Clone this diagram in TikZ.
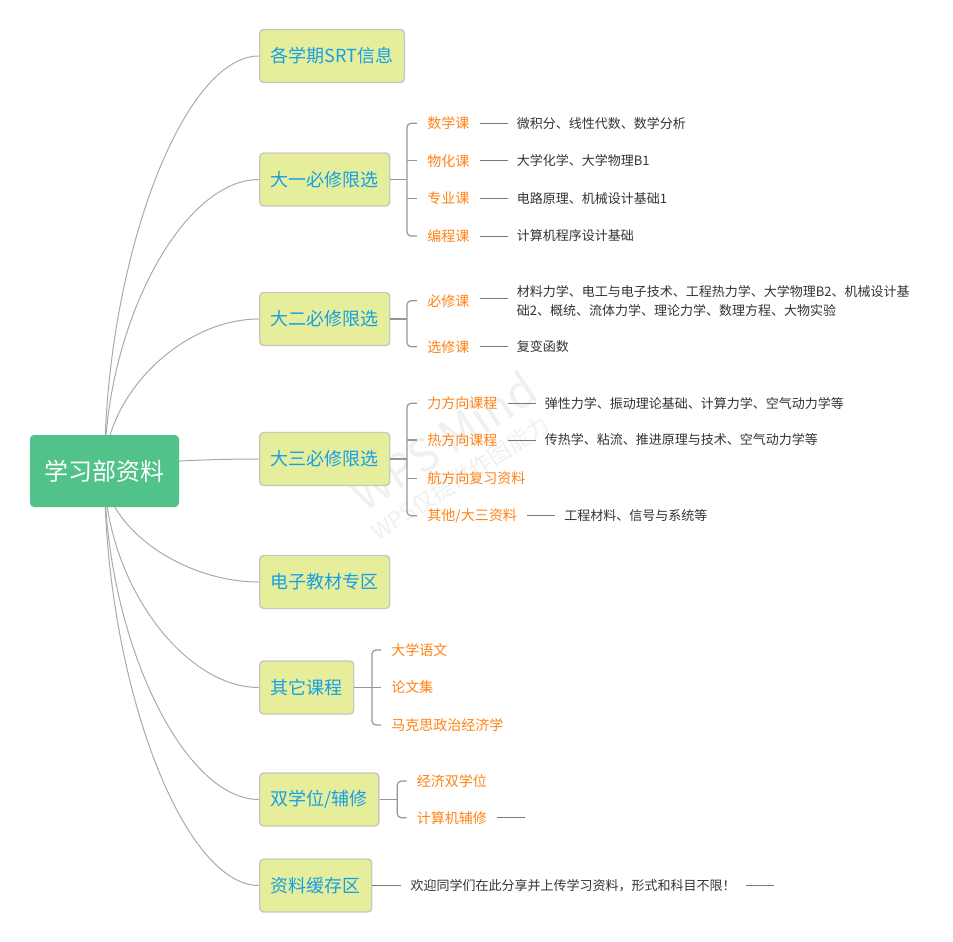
\documentclass[tikz,border=0pt]{standalone}
\usepackage{fontspec}
\setmainfont{Noto Sans CJK SC}
\usetikzlibrary{calc,backgrounds}
\definecolor{rootfill}{RGB}{80,194,138}
\definecolor{l1fill}{RGB}{230,238,156}
\definecolor{l1draw}{RGB}{200,200,190}
\definecolor{l1text}{RGB}{20,160,230}
\definecolor{l2text}{RGB}{255,130,20}
\definecolor{l3text}{RGB}{51,51,51}
\definecolor{curvecol}{RGB}{170,170,170}
\definecolor{brkcol}{RGB}{150,150,150}
\definecolor{leafcol}{RGB}{120,120,120}
\definecolor{wmcol}{RGB}{240,240,240}
\begin{document}
\begin{tikzpicture}[x=0.75pt,y=-0.75pt,
  root/.style={fill=rootfill, rounded corners=3pt, text=white, font=\fontsize{18pt}{22pt}\selectfont, minimum width=111.75pt, minimum height=54pt, inner sep=0pt},
  topic/.style={fill=l1fill, draw=l1draw, line width=1.1pt, rounded corners=3pt, text=l1text, font=\fontsize{13.5pt}{16pt}\selectfont, minimum height=39.75pt, inner xsep=8.25pt, inner ysep=0pt, anchor=west},
  sub/.style={text=l2text, font=\fontsize{10.5pt}{13pt}\selectfont, inner sep=0pt, anchor=west},
  leaf/.style={text=l3text, font=\fontsize{9.75pt}{14.25pt}\selectfont, inner sep=0pt, anchor=west, align=left},
  curve/.style={draw=curvecol, line width=0.75pt},
  brk/.style={draw=brkcol, line width=0.9pt, rounded corners=3pt},
  leafline/.style={draw=leafcol, line width=0.75pt},
  wm/.style={text=wmcol, rotate=33}]

\useasboundingbox (0,0) rectangle (953,942);

% root
\node[root] (root) at (104.5,471) {学习部资料};

% main topics
\node[topic] (b1) at (259,56) {各学期SRT信息};
\node[topic] (b2) at (259,179.5) {大一必修限选};
\node[topic] (b3) at (259,319) {大二必修限选};
\node[topic] (b4) at (259,459) {大三必修限选};
\node[topic] (b5) at (259,582) {电子教材专区};
\node[topic] (b6) at (259,687.5) {其它课程};
\node[topic] (b7) at (259,799.5) {双学位/辅修};
\node[topic] (b8) at (259,885.5) {资料缓存区};

% watermark and curves
\begin{scope}[on background layer]
\node[wm, font=\fontsize{34pt}{38pt}\selectfont] (wm1) at (443,441) {WPS Mind};
\node[wm, font=\fontsize{17pt}{20pt}\selectfont] (wm2) at (460,478) {WPS仅提供作图能力};
\draw[curve] (root.center) .. controls +(0,-207.5) and +(-77,0) .. (b1.west);
\draw[curve] (root.center) .. controls +(0,-145.75) and +(-77,0) .. (b2.west);
\draw[curve] (root.center) .. controls +(0,-76) and +(-77,0) .. (b3.west);
\draw[curve] (root.center) .. controls +(0,-6) and +(-77,0) .. (b4.west);
\draw[curve] (root.center) .. controls +(0,55.5) and +(-77,0) .. (b5.west);
\draw[curve] (root.center) .. controls +(0,108.25) and +(-77,0) .. (b6.west);
\draw[curve] (root.center) .. controls +(0,164.25) and +(-77,0) .. (b7.west);
\draw[curve] (root.center) .. controls +(0,207.25) and +(-77,0) .. (b8.west);
\end{scope}

% ---- 大一
\node[sub] (m11) at (427,123.3) {数学课};
\node[sub] (m12) at (427,160.7) {物化课};
\node[sub] (m13) at (427,198.3) {专业课};
\node[sub] (m14) at (427,236) {编程课};
\coordinate (j2) at (407,179.5);
\draw[brk] (b2.east) -- (j2);
\draw[brk] ($(m11.west)+(-10,0)$) -- (j2 |- m11.west) -- (j2 |- m14.west) -- ($(m14.west)+(-10,0)$);
\draw[brk] (j2 |- m12.west) -- ($(m12.west)+(-10,0)$);
\draw[brk] (j2 |- m13.west) -- ($(m13.west)+(-10,0)$);
\node[leaf] (t11) at ($(m11.east)+(47,0)$) {微积分、线性代数、数学分析};
\node[leaf] (t12) at ($(m12.east)+(47,0)$) {大学化学、大学物理B1};
\node[leaf] (t13) at ($(m13.east)+(47,0)$) {电路原理、机械设计基础1};
\node[leaf] (t14) at ($(m14.east)+(47,0)$) {计算机程序设计基础};
\draw[leafline] ($(m11.east)+(10,0)$) -- ($(t11.west)+(-9,0)$);
\draw[leafline] ($(m12.east)+(10,0)$) -- ($(t12.west)+(-9,0)$);
\draw[leafline] ($(m13.east)+(10,0)$) -- ($(t13.west)+(-9,0)$);
\draw[leafline] ($(m14.east)+(10,0)$) -- ($(t14.west)+(-9,0)$);

% ---- 大二
\node[sub] (m21) at (427,300.7) {必修课};
\node[sub] (m22) at (427,346.7) {选修课};
\coordinate (j3) at (407,319);
\draw[brk] (b3.east) -- (j3);
\draw[brk] ($(m21.west)+(-10,0)$) -- (j3 |- m21.west) -- (j3 |- m22.west) -- ($(m22.west)+(-10,0)$);
\node[leaf] (t21) at ($(m21.east)+(47,0)$) {材料力学、电工与电子技术、工程热力学、大学物理B2、机械设计基\\础2、概统、流体力学、理论力学、数理方程、大物实验};
\node[leaf] (t22) at ($(m22.east)+(47,0)$) {复变函数};
\draw[leafline] ($(m21.east)+(10,-2)$) -- ($(t21.west)+(-9,-2)$);
\draw[leafline] ($(m22.east)+(10,0)$) -- ($(t22.west)+(-9,0)$);

% ---- 大三
\node[sub] (m31) at (427,403.3) {力方向课程};
\node[sub] (m32) at (427,440) {热方向课程};
\node[sub] (m33) at (427,478.3) {航方向复习资料};
\node[sub] (m34) at (427,515.7) {其他/大三资料};
\coordinate (j4) at (407,459);
\draw[brk] (b4.east) -- (j4);
\draw[brk] ($(m31.west)+(-10,0)$) -- (j4 |- m31.west) -- (j4 |- m34.west) -- ($(m34.west)+(-10,0)$);
\draw[brk] (j4 |- m32.west) -- ($(m32.west)+(-10,0)$);
\draw[brk] (j4 |- m33.west) -- ($(m33.west)+(-10,0)$);
\node[leaf] (t31) at ($(m31.east)+(47,0)$) {弹性力学、振动理论基础、计算力学、空气动力学等};
\node[leaf] (t32) at ($(m32.east)+(47,0)$) {传热学、粘流、推进原理与技术、空气动力学等};
\node[leaf] (t34) at ($(m34.east)+(47,0)$) {工程材料、信号与系统等};
\draw[leafline] ($(m31.east)+(10,0)$) -- ($(t31.west)+(-9,0)$);
\draw[leafline] ($(m32.east)+(10,0)$) -- ($(t32.west)+(-9,0)$);
\draw[leafline] ($(m34.east)+(10,0)$) -- ($(t34.west)+(-9,0)$);

% ---- 其它课程
\node[sub] (m61) at (391,650) {大学语文};
\node[sub] (m62) at (391,687.5) {论文集};
\node[sub] (m63) at (391,725) {马克思政治经济学};
\coordinate (j6) at (372,687.5);
\draw[brk] (b6.east) -- (j6);
\draw[brk] ($(m61.west)+(-10,0)$) -- (j6 |- m61.west) -- (j6 |- m63.west) -- ($(m63.west)+(-10,0)$);
\draw[brk] (j6 |- m62.west) -- ($(m62.west)+(-10,0)$);

% ---- 双学位/辅修
\node[sub] (m71) at (416.5,781) {经济双学位};
\node[sub] (m72) at (416.5,817.7) {计算机辅修};
\coordinate (j7) at (397.3,799.5);
\draw[brk] (b7.east) -- (j7);
\draw[brk] ($(m71.west)+(-10,0)$) -- (j7 |- m71.west) -- (j7 |- m72.west) -- ($(m72.west)+(-10,0)$);
\draw[leafline] ($(m72.east)+(10,0)$) -- ++(28,0);

% ---- 资料缓存区
\node[leaf] (t81) at ($(b8.east)+(38,0)$) {欢迎同学们在此分享并上传学习资料，形式和科目不限！};
\draw[leafline] (b8.east) -- ($(t81.west)+(-9,0)$);
\draw[leafline] ($(t81.east)+(10,0)$) -- ++(28,0);
\end{tikzpicture}
\end{document}
